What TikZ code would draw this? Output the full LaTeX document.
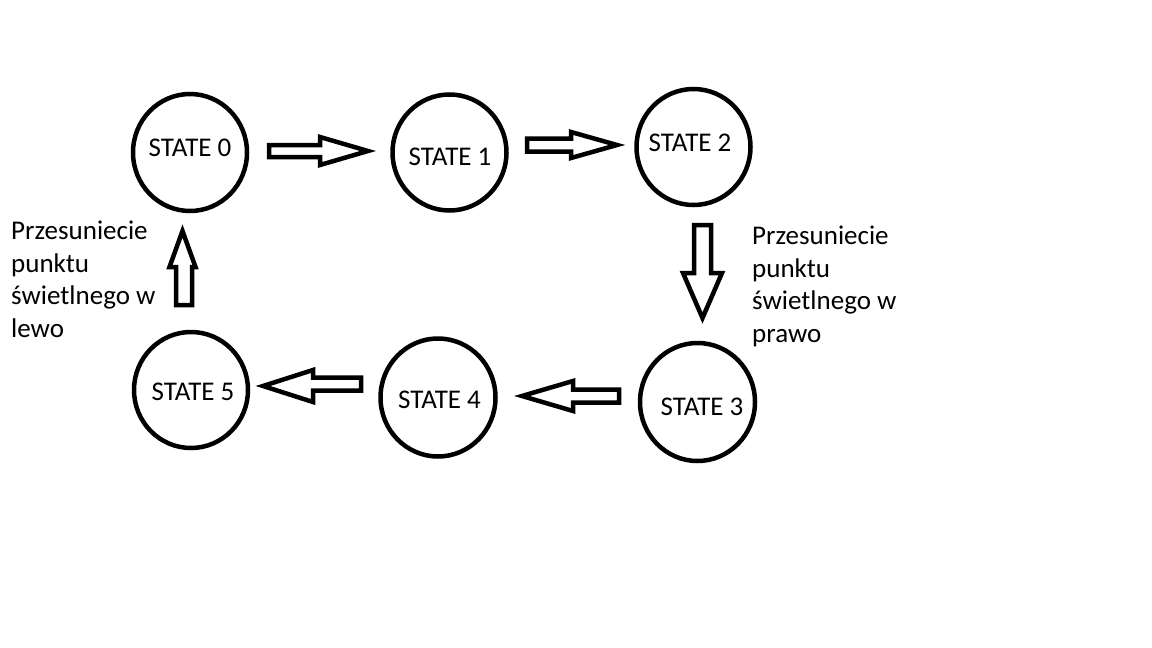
\documentclass[tikz,border=0pt]{standalone}
\usepackage{fontspec}
\setmainfont{Carlito}
\usetikzlibrary{shapes.geometric}
\begin{document}
\begin{tikzpicture}[x=1pt,y=-1pt,
  statebox/.style={ellipse,draw,line width=4.5pt,inner sep=0pt},
  statetext/.style={anchor=base,inner sep=0pt,font=\fontsize{27}{30}\selectfont},
  note/.style={anchor=base west,inner sep=0pt,align=left,font=\fontsize{27}{32.5}\selectfont},
  blockarrow/.style={draw,line width=4.5pt,line join=miter,fill=white}]
\useasboundingbox (0,0) rectangle (1152,648);
\fill[white] (0,0) rectangle (1152,648);
% states
\node[statebox,minimum width=114pt,minimum height=117pt] (s0) at (190,152.5) {};
\node[statebox,minimum width=114pt,minimum height=116pt] (s1) at (449.5,152.5) {};
\node[statebox,minimum width=114pt,minimum height=116pt] (s2) at (693.5,147) {};
\node[statebox,minimum width=115pt,minimum height=118pt] (s3) at (697.5,402) {};
\node[statebox,minimum width=115pt,minimum height=118pt] (s4) at (438,397.5) {};
\node[statebox,minimum width=114pt,minimum height=116pt] (s5) at (191,390) {};
\node[statetext] (t0) at (190,156.5) {STATE 0};
\node[statetext] (t1) at (450,165.5) {STATE 1};
\node[statetext] (t2) at (690,151.5) {STATE 2};
\node[statetext] (t3) at (702,415.5) {STATE 3};
\node[statetext] (t4) at (439.5,408.5) {STATE 4};
\node[statetext] (t5) at (193,400.5) {STATE 5};
% block arrows
% 0 -> 1
\draw[blockarrow] (269,145) -- (320,145) -- (320,137) -- (368,151) -- (320,165) -- (320,157) -- (269,157) -- cycle;
% 1 -> 2
\draw[blockarrow] (527,138.5) -- (571,138.5) -- (571,132) -- (617,145) -- (571,158) -- (571,151.5) -- (527,151.5) -- cycle;
% 2 -> 3
\draw[blockarrow] (694,225) -- (711,225) -- (711,273) -- (722,273) -- (702.5,318) -- (683,273) -- (694,273) -- cycle;
% 3 -> 4
\draw[blockarrow] (619,389.5) -- (573,389.5) -- (573,381) -- (522,396) -- (573,411) -- (573,402.5) -- (619,402.5) -- cycle;
% 4 -> 5
\draw[blockarrow] (361,377.5) -- (313,377.5) -- (313,370) -- (263,386) -- (313,402) -- (313,390.5) -- (361,390.5) -- cycle;
% 5 -> 0
\draw[blockarrow] (176,305) -- (176,267) -- (169.5,267) -- (182.5,231) -- (195.5,267) -- (192,267) -- (192,305) -- cycle;
% notes (base = last line baseline)
\node[note] (nl) at (11,337) {Przesuniecie\\punktu\\świetlnego w\\lewo};
\node[note] (nr) at (752,342) {Przesuniecie\\punktu\\świetlnego w\\prawo};
\end{tikzpicture}
\end{document}
